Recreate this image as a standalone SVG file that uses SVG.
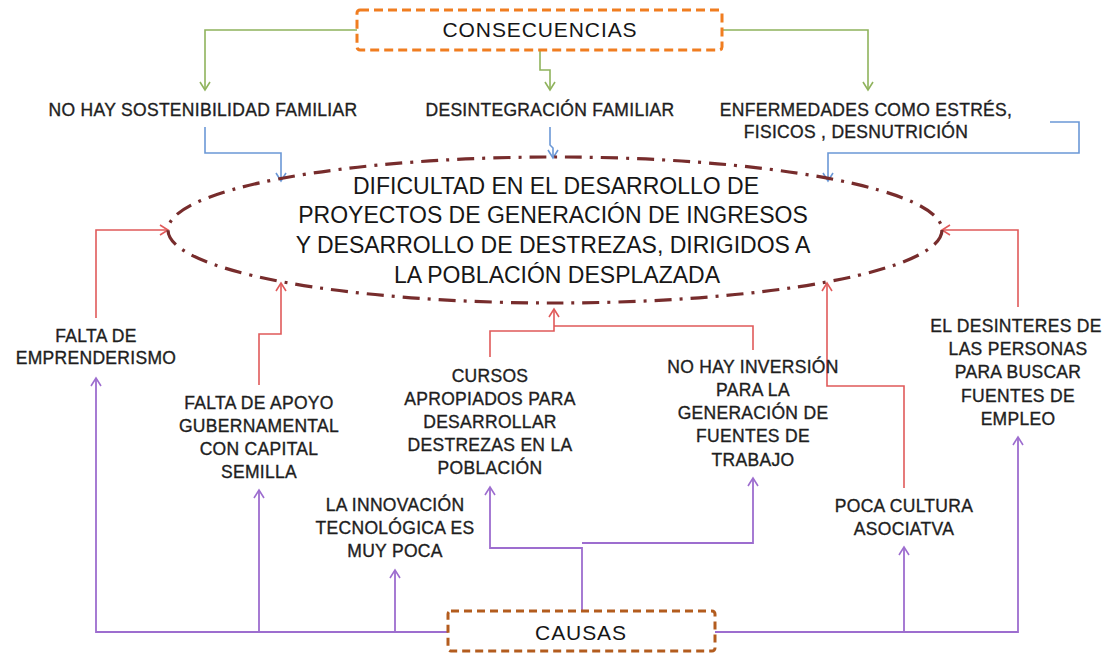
<svg xmlns="http://www.w3.org/2000/svg" width="1105" height="654" viewBox="0 0 1105 654">
<style>
.t{font-family:"Liberation Sans",Arial,sans-serif;font-size:17.5px;fill:#1e1e1e;stroke:#1e1e1e;stroke-width:0.35px;text-anchor:middle;letter-spacing:0.3px}
.big{font-family:"Liberation Sans",Arial,sans-serif;font-size:23px;fill:#161616;text-anchor:middle}
.hdr{font-family:"Liberation Sans",Arial,sans-serif;font-size:21px;fill:#161616;text-anchor:middle;letter-spacing:0.9px}
.g{fill:none;stroke:#8fb35c;stroke-width:1.6}
.b{fill:none;stroke:#6b98d6;stroke-width:1.6}
.r{fill:none;stroke:#e05a5a;stroke-width:1.6}
.p{fill:none;stroke:#9d6dcf;stroke-width:1.8}
</style>
<defs>
<marker id="ag" markerUnits="userSpaceOnUse" markerWidth="14" markerHeight="14" refX="9" refY="6" orient="auto"><path d="M1,1 L9,6 L1,11" fill="none" stroke="#8fb35c" stroke-width="1.6"/></marker>
<marker id="ab" markerUnits="userSpaceOnUse" markerWidth="14" markerHeight="14" refX="9" refY="6" orient="auto"><path d="M1,1 L9,6 L1,11" fill="none" stroke="#6b98d6" stroke-width="1.6"/></marker>
<marker id="ar" markerUnits="userSpaceOnUse" markerWidth="14" markerHeight="14" refX="9" refY="6" orient="auto"><path d="M1,1 L9,6 L1,11" fill="none" stroke="#e05a5a" stroke-width="1.6"/></marker>
<marker id="ap" markerUnits="userSpaceOnUse" markerWidth="14" markerHeight="14" refX="9" refY="6" orient="auto"><path d="M1,1 L9,6 L1,11" fill="none" stroke="#9d6dcf" stroke-width="1.6"/></marker>
</defs>
<rect width="1105" height="654" fill="#ffffff"/>

<g id="connectors">
<polyline class="g" points="357,30 205,30 205,90" marker-end="url(#ag)"/>
<polyline class="g" points="540,50 540,70 550,70 550,90" marker-end="url(#ag)"/>
<polyline class="g" points="722,30 868,30 868,90" marker-end="url(#ag)"/>

<polyline class="b" points="205,127 205,153 281,153 281,181" marker-end="url(#ab)"/>
<polyline class="b" points="550,127 550,145 553,148 553,158" marker-end="url(#ab)"/>
<polyline class="b" points="1050,122 1079,122 1079,153 828,153 828,181" marker-end="url(#ab)"/>

<polyline class="r" points="96,318 96,230 168,230" marker-end="url(#ar)"/>
<polyline class="r" points="259,385 259,334 281,334 281,283" marker-end="url(#ar)"/>
<polyline class="r" points="490,357 490,331 554,331 554,309" marker-end="url(#ar)"/>
<polyline class="r" points="753,350 753,326 554,326"/>
<polyline class="r" points="904,488 904,386 827,386 827,283" marker-end="url(#ar)"/>
<polyline class="r" points="1018,307 1018,230 942,230" marker-end="url(#ar)"/>

<polyline class="p" points="448,632 96,632 96,378" marker-end="url(#ap)"/>
<polyline class="p" points="259,632 259,490" marker-end="url(#ap)"/>
<polyline class="p" points="395,632 395,570" marker-end="url(#ap)"/>
<polyline class="p" points="582,611 582,548 490,548 490,487" marker-end="url(#ap)"/>
<polyline class="p" points="582,543 753,543 753,478" marker-end="url(#ap)"/>
<polyline class="p" points="715,632 1018,632 1018,437" marker-end="url(#ap)"/>
<polyline class="p" points="904,632 904,547" marker-end="url(#ap)"/>
</g>

<g id="consecuencias">
<rect x="357" y="10" width="365" height="40" rx="3" fill="#fff" stroke="#f07d20" stroke-width="3" stroke-dasharray="9,5"/>
<text class="hdr" x="540" y="37">CONSECUENCIAS</text>
</g>

<g id="no-sostenibilidad"><text class="t" x="203" y="116">NO HAY SOSTENIBILIDAD FAMILIAR</text></g>
<g id="desintegracion"><text class="t" x="550" y="116">DESINTEGRACIÓN FAMILIAR</text></g>
<g id="enfermedades"><text class="t" x="866" y="116">ENFERMEDADES COMO ESTRÉS,</text><text class="t" x="856" y="138">FISICOS , DESNUTRICIÓN</text></g>

<g id="problema">
<ellipse cx="555" cy="230" rx="387" ry="73" fill="none" stroke="#772c2c" stroke-width="3.2" stroke-dasharray="17,8,3,8"/>
<text class="big" x="556" y="194">DIFICULTAD EN EL DESARROLLO DE</text>
<text class="big" x="553" y="223">PROYECTOS DE GENERACIÓN DE INGRESOS</text>
<text class="big" x="553" y="253">Y DESARROLLO DE DESTREZAS, DIRIGIDOS A</text>
<text class="big" x="557" y="283">LA POBLACIÓN DESPLAZADA</text>
</g>

<g id="emprenderismo"><text class="t" x="96" y="342">FALTA DE</text><text class="t" x="96" y="364">EMPRENDERISMO</text></g>
<g id="apoyo"><text class="t" x="259" y="409">FALTA DE APOYO</text><text class="t" x="259" y="432">GUBERNAMENTAL</text><text class="t" x="259" y="455">CON CAPITAL</text><text class="t" x="259" y="478">SEMILLA</text></g>
<g id="innovacion"><text class="t" x="395" y="511">LA INNOVACIÓN</text><text class="t" x="395" y="534">TECNOLÓGICA ES</text><text class="t" x="395" y="557">MUY POCA</text></g>
<g id="cursos"><text class="t" x="490" y="382">CURSOS</text><text class="t" x="490" y="405">APROPIADOS PARA</text><text class="t" x="490" y="428">DESARROLLAR</text><text class="t" x="490" y="451">DESTREZAS EN LA</text><text class="t" x="490" y="474">POBLACIÓN</text></g>
<g id="inversion"><text class="t" x="753" y="373">NO HAY INVERSIÓN</text><text class="t" x="753" y="396">PARA LA</text><text class="t" x="753" y="419">GENERACIÓN DE</text><text class="t" x="753" y="442">FUENTES DE</text><text class="t" x="753" y="466">TRABAJO</text></g>
<g id="cultura"><text class="t" x="904" y="512">POCA CULTURA</text><text class="t" x="904" y="535">ASOCIATVA</text></g>
<g id="desinteres"><text class="t" x="1016" y="332">EL DESINTERES DE</text><text class="t" x="1018" y="355">LAS PERSONAS</text><text class="t" x="1018" y="378">PARA BUSCAR</text><text class="t" x="1018" y="402">FUENTES DE</text><text class="t" x="1018" y="425">EMPLEO</text></g>

<g id="causas">
<rect x="448" y="611" width="267" height="40" rx="3" fill="#fff" stroke="#b35c1e" stroke-width="3" stroke-dasharray="8,5"/>
<text class="hdr" x="581" y="640">CAUSAS</text>
</g>
</svg>
